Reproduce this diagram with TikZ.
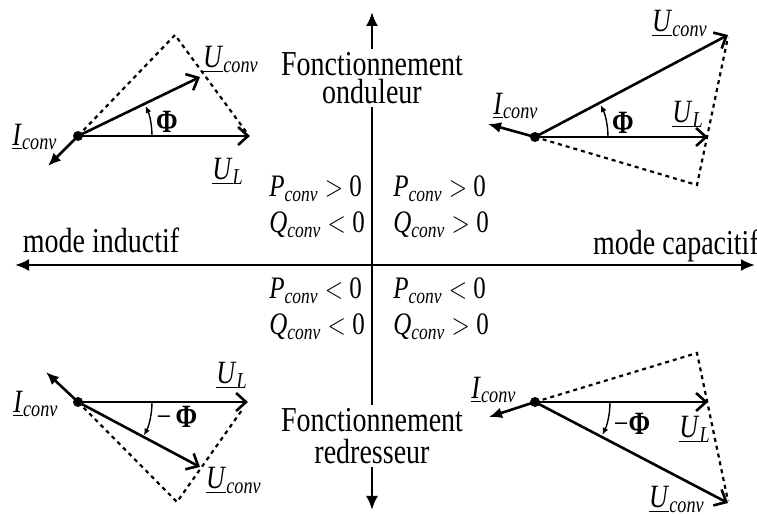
\documentclass[tikz,border=0pt]{standalone}
\usepackage{fontspec}
\setmainfont{Liberation Serif}
\usetikzlibrary{arrows.meta}
\newcommand{\ph}[2]{\underline{\textit{#1}}\textsubscript{\textit{#2}}}
\newcommand{\pq}[2]{\textit{#1}\textsubscript{\textit{#2}}}
\tikzset{
  axis/.style={line width=1.2pt,{Latex[length=7pt,width=6pt]}-{Latex[length=7pt,width=6pt]}},
  vec/.style={line width=1.3pt,-{Straight Barb[length=5pt,width=9pt]}},
  cur/.style={line width=1.3pt,-{Latex[length=6.5pt,width=5.5pt]}},
  aux/.style={line width=1.1pt,dash pattern=on 2pt off 2pt},
  ang/.style={line width=0.7pt,-{Latex[length=3.5pt,width=3pt]}},
  lbl/.style={font=\fontsize{13}{14.4}\selectfont,yscale=1.25,inner sep=1pt},
  quad/.style={font=\fontsize{12.5}{14.4}\selectfont,yscale=1.25,inner sep=1pt,align=left,anchor=base west},
  big/.style={font=\fontsize{14}{11.5}\selectfont,yscale=1.25,inner sep=1pt,align=center},
}
\begin{document}
\begin{tikzpicture}[x=0.5pt,y=0.5pt]
\useasboundingbox (0,0) rectangle (757,515);
% axes
\coordinate (n) at (372,503);
\coordinate (s) at (372,5);
\coordinate (w) at (15,250);
\coordinate (e) at (755,250);
\draw[axis] (s) -- (n);
\draw[axis] (w) -- (e);
\node[big,fill=white] (ond) at (372,437) {Fonctionnement\\onduleur};
\node[big,fill=white,font=\fontsize{14}{13}\selectfont] (red) at (372,79) {Fonctionnement\\redresseur};
\node[big,anchor=base] (ind) at (101,262) {mode inductif};
\node[big,anchor=base] (cap) at (676,260) {mode capacitif};
% quadrants
\node[quad] (q1) at (267,282) {\pq{P}{conv} $>$ 0\\\pq{Q}{conv} $<$ 0};
\node[quad] (q2) at (391,282) {\pq{P}{conv} $>$ 0\\\pq{Q}{conv} $>$ 0};
\node[quad] (q3) at (267,180) {\pq{P}{conv} $<$ 0\\\pq{Q}{conv} $<$ 0};
\node[quad] (q4) at (391,180) {\pq{P}{conv} $<$ 0\\\pq{Q}{conv} $>$ 0};
% inductif / onduleur
\coordinate (o1) at (78,379);
\coordinate (ul1) at (250,379);
\coordinate (uc1) at (200,438);
\coordinate (i1) at (48,349);
\coordinate (t1) at (175,480);
\coordinate (d1) at (247,382);
\draw[aux] (o1) -- (t1) -- (d1);
\draw[vec] (o1) -- (ul1);
\draw[vec] (o1) -- (uc1);
\draw[cur] (o1) -- (i1);
\fill (o1) circle[radius=2.5pt];
\draw[ang] ([shift={(37pt,0pt)}]o1) arc[start angle=0,end angle=24,radius=37pt];
\node[lbl] (luc1) at (231,455) {\ph{U}{conv}};
\node[lbl] (lul1) at (228,343) {\ph{U}{L}};
\node[lbl] (li1) at (35,378) {\ph{I}{conv}};
\node[lbl] (phi1) at (167,393) {\textbf{Φ}};
% capacitif / onduleur
\coordinate (o2) at (535,378);
\coordinate (ul2) at (708,378);
\coordinate (uc2) at (728,480);
\coordinate (i2) at (488,391);
\coordinate (t2) at (697,330);
\coordinate (d2) at (728,478);
\draw[aux] (o2) -- (t2) -- (d2);
\draw[vec] (o2) -- (ul2);
\draw[vec] (o2) -- (uc2);
\draw[cur] (o2) -- (i2);
\fill (o2) circle[radius=2.5pt];
\draw[ang] ([shift={(36.5pt,0pt)}]o2) arc[start angle=0,end angle=26,radius=36.5pt];
\node[lbl] (luc2) at (680,491) {\ph{U}{conv}};
\node[lbl] (lul2) at (688,400) {\ph{U}{L}};
\node[lbl] (li2) at (516,409) {\ph{I}{conv}};
\node[lbl] (phi2) at (623,392) {\textbf{Φ}};
% inductif / redresseur
\coordinate (o3) at (78,113);
\coordinate (ul3) at (248,113);
\coordinate (uc3) at (200,48);
\coordinate (i3) at (46,143);
\coordinate (t3) at (177,13);
\coordinate (d3) at (242,105);
\draw[aux] (o3) -- (t3) -- (d3);
\draw[vec] (o3) -- (ul3);
\draw[vec] (o3) -- (uc3);
\draw[cur] (o3) -- (i3);
\fill (o3) circle[radius=2.5pt];
\draw[ang] ([shift={(37pt,0pt)}]o3) arc[start angle=0,end angle=-27,radius=37pt];
\node[lbl] (lul3) at (232,139) {\ph{U}{L}};
\node[lbl] (luc3) at (234,34) {\ph{U}{conv}};
\node[lbl] (li3) at (36,111) {\ph{I}{conv}};
\node[lbl] (phi3) at (177,98) {−\,\textbf{Φ}};
% capacitif / redresseur
\coordinate (o4) at (535,113);
\coordinate (ul4) at (708,113);
\coordinate (uc4) at (728,12);
\coordinate (i4) at (489,98);
\coordinate (t4) at (697,162);
\coordinate (d4) at (728,14);
\draw[aux] (o4) -- (t4) -- (d4);
\draw[vec] (o4) -- (ul4);
\draw[vec] (o4) -- (uc4);
\draw[cur] (o4) -- (i4);
\fill (o4) circle[radius=2.5pt];
\draw[ang] ([shift={(37.5pt,0pt)}]o4) arc[start angle=0,end angle=-26,radius=37.5pt];
\node[lbl] (li4) at (494,125) {\ph{I}{conv}};
\node[lbl] (lul4) at (695,85) {\ph{U}{L}};
\node[lbl] (luc4) at (677,15) {\ph{U}{conv}};
\node[lbl] (phi4) at (632,91) {−\textbf{Φ}};
\end{tikzpicture}
\end{document}
